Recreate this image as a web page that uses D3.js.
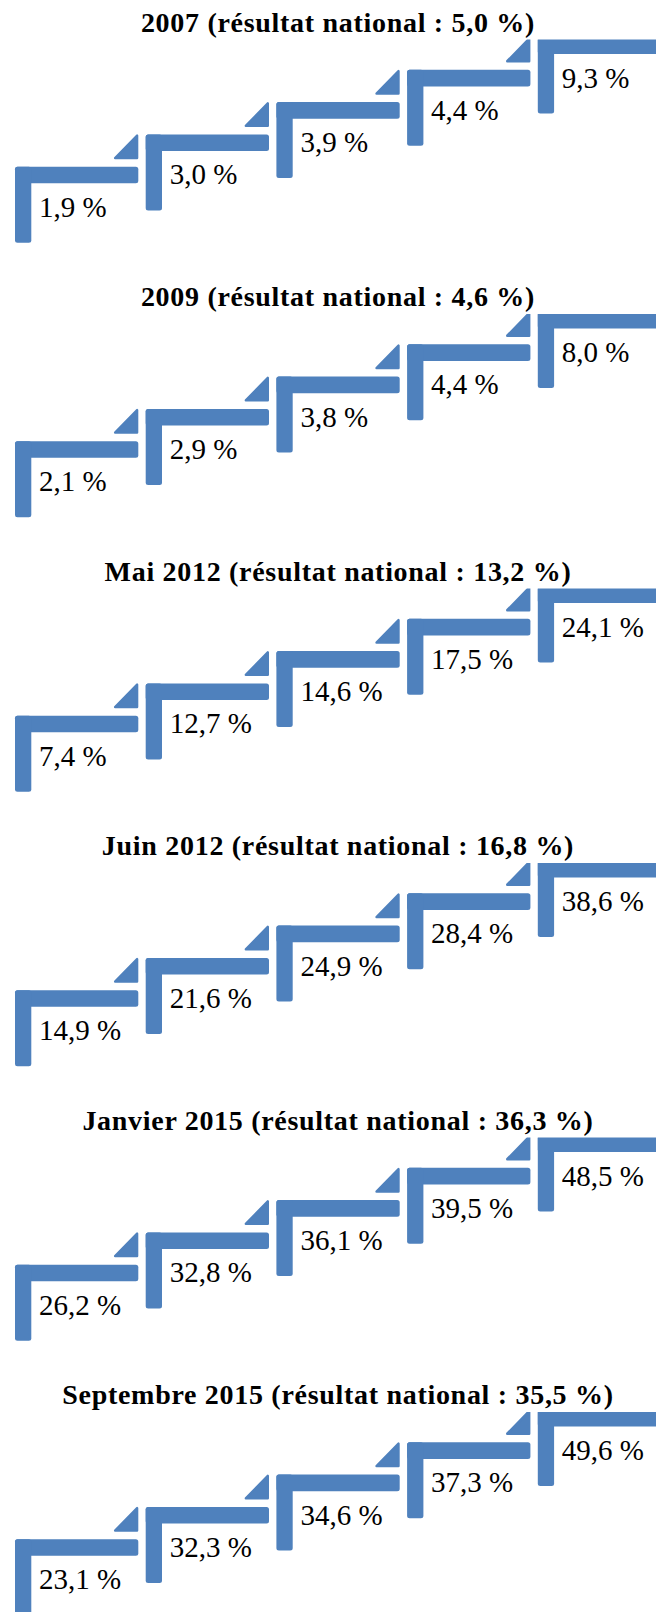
<!DOCTYPE html>
<html>
<head>
<meta charset="utf-8">
<script src="https://cdn.jsdelivr.net/npm/d3@7/dist/d3.min.js"></script>
<style>
  html, body { margin: 0; padding: 0; background: #ffffff; }
  svg { display: block; }
</style>
</head>
<body>
<script>
// ---- data ----
const panelTitles = [
  "2007 (résultat national : 5,0 %)",
  "2009 (résultat national : 4,6 %)",
  "Mai 2012 (résultat national : 13,2 %)",
  "Juin 2012 (résultat national : 16,8 %)",
  "Janvier 2015 (résultat national : 36,3 %)",
  "Septembre 2015 (résultat national : 35,5 %)"
];
const values2007 = [1.9, 3.0, 3.9, 4.4, 9.3];
const values2009 = [2.1, 2.9, 3.8, 4.4, 8.0];
const valuesMai2012 = [7.4, 12.7, 14.6, 17.5, 24.1];
const valuesJuin2012 = [14.9, 21.6, 24.9, 28.4, 38.6];
const valuesJan2015 = [26.2, 32.8, 36.1, 39.5, 48.5];
const valuesSep2015 = [23.1, 32.3, 34.6, 37.3, 49.6];
const panelValues = [values2007, values2009, valuesMai2012, valuesJuin2012, valuesJan2015, valuesSep2015];
const stepIndex = [0, 1, 2, 3, 4];

// ---- layout ----
const W = 656, H = 1612;
const BLUE = "#4F81BD";
const fmt = v => d3.format(".1f")(v).replace(".", ",") + " %";

const svg = d3.select("body").append("svg").attr("width", W).attr("height", H);

const panelY = d3.scaleLinear().domain([0, 5]).range([0, 1372.5]);
const stepX = d3.scaleLinear().domain([0, 4]).range([15, 537.8]);
const stepY = d3.scaleLinear().domain([0, 4]).range([166.7, 37.5]);

const barLen = 123.3, thick = 16.6, vLen = 76, triSize = 25, triGap = 7.4;
const stepDy = stepY(0) - stepY(1);

panelValues.forEach((vals, p) => {
  const g = svg.append("g").attr("transform", `translate(0,${panelY(p)})`);
  const steps = g.selectAll("g.step").data(stepIndex).join("g").attr("class", "step");

  // horizontal bar
  steps.append("rect")
    .attr("x", i => stepX(i)).attr("y", i => stepY(i))
    .attr("width", barLen).attr("height", thick)
    .attr("rx", 2.5).attr("fill", BLUE);
  // vertical bar
  steps.append("rect")
    .attr("x", i => stepX(i)).attr("y", i => stepY(i))
    .attr("width", thick - 0.3).attr("height", vLen)
    .attr("rx", 2.5).attr("fill", BLUE);
  // triangle
  steps.append("path")
    .attr("d", i => {
      const r = stepX(i) + barLen - 1.2;
      const top = stepY(i) - stepDy + 1.2;
      const bot = stepY(i) - triGap - 1.2;
      return `M${r},${top}L${r},${bot}L${r - triSize + 3},${bot}Z`;
    })
    .attr("fill", BLUE).attr("stroke", BLUE)
    .attr("stroke-width", 2.4).attr("stroke-linejoin", "round");
  // labels
  steps.append("text")
    .attr("x", i => stepX(i) + 24).attr("y", i => stepY(i) + 50)
    .attr("font-family", "'Liberation Serif', 'Times New Roman', serif")
    .attr("font-size", 29).attr("fill", "#000")
    .text(i => fmt(vals[i]));

  // title box (white) and title
  g.append("rect").attr("x", 0).attr("y", -2).attr("width", W).attr("height", 41.5).attr("fill", "#fff");
  g.append("text")
    .attr("x", 338).attr("y", 31.5).attr("text-anchor", "middle")
    .attr("font-family", "'Liberation Serif', 'Times New Roman', serif")
    .attr("font-weight", "bold").attr("font-size", 28)
    .attr("letter-spacing", 0.7).attr("fill", "#000")
    .text(panelTitles[p]);
});
</script>
</body>
</html>
